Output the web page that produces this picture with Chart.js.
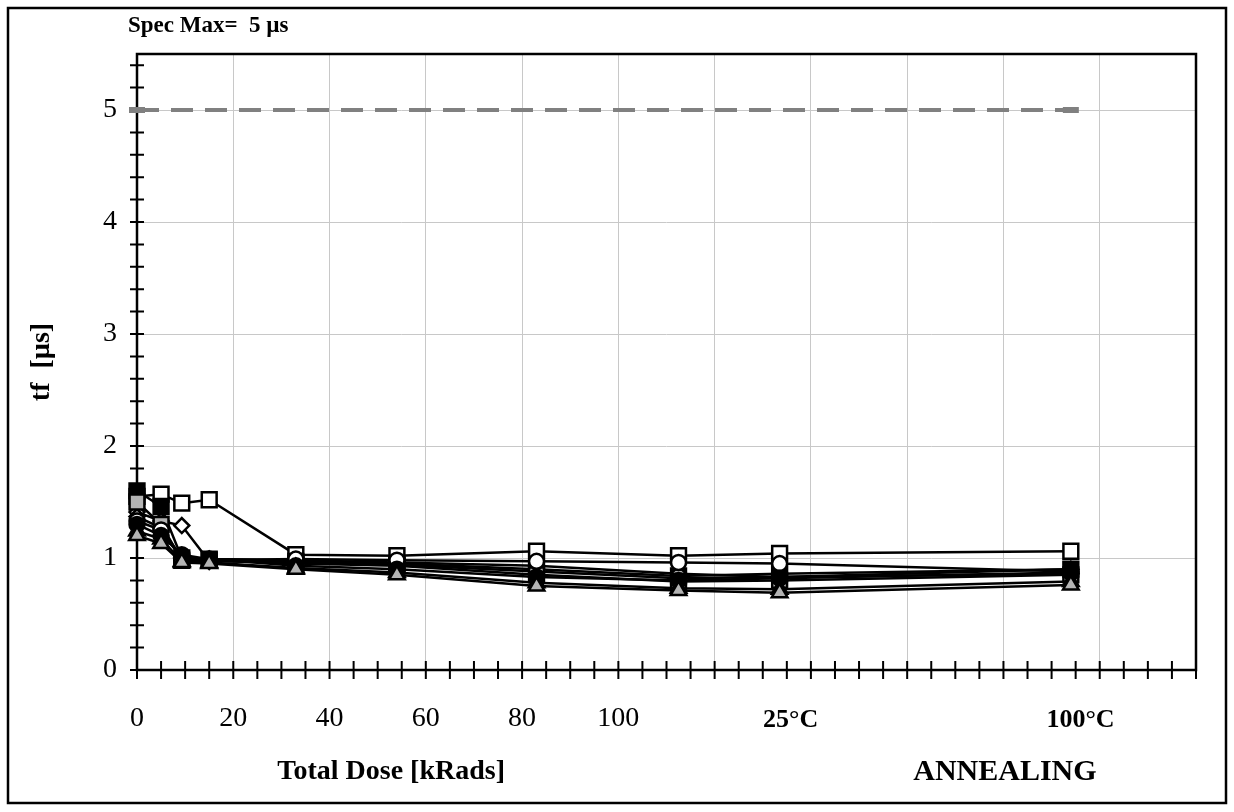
<!DOCTYPE html>
<html>
<head>
<meta charset="utf-8">
<script src="https://cdn.jsdelivr.net/npm/chart.js@4.4.0/dist/chart.umd.min.js"></script>
<style>
html, body { margin: 0; padding: 0; background: #fff; }
</style>
</head>
<body>
<canvas id="grafico" width="1234" height="812"></canvas>
<script>
// doses (kRads) e pontos de recozimento
var doses = [0, 5, 9.3, 15, 33, 54, 83, 112.5, 133.5, 194];
var rotulosX = [0, 20, 40, 60, 80, 100];
var rotulosRecozimento = ["25°C", "100°C"];
var posRecozimento = [135.8, 196];

var specMax = 5;
var specDoses = [0, 194];

// tf [µs] por amostra
var quadBranco  = [1.55, 1.57, 1.49, 1.52, 1.03, 1.02, 1.06, 1.02, 1.04, 1.06];
var quadPreto   = [1.60, 1.46, 1.00, 0.99, 0.97, 0.95, 0.90, 0.84, 0.86, 0.90];
var quadCinza   = [1.50, 1.30, 0.98, 0.98, 0.95, 0.93, 0.85, 0.79, 0.80, 0.85];
var circPreto   = [1.30, 1.20, 1.03, 0.99, 0.93, 0.90, 0.83, 0.80, 0.82, 0.87];
var circBranco  = [1.33, 1.25, 0.99, 0.98, 0.99, 0.98, 0.97, 0.96, 0.95, 0.88];
var losBranco   = [1.41, 1.33, 1.29, 0.97, 0.96, 0.94, 0.88, 0.82, 0.83, 0.86];
var losCinza    = [1.37, 1.27, 1.00, 0.99, 0.98, 0.96, 0.93, 0.86, 0.83, 0.90];
var triPreto    = [1.24, 1.17, 0.97, 0.96, 0.91, 0.87, 0.78, 0.73, 0.72, 0.79];
var triCinza    = [1.20, 1.13, 0.96, 0.95, 0.90, 0.85, 0.75, 0.71, 0.69, 0.76];

var fonte = "Liberation Serif";

function pontos(vals) {
    return doses.map(function (d, i) { return { x: d, y: vals[i] }; });
}

function serie(vals, estilo, fundo, raio) {
    return {
        data: pontos(vals),
        borderColor: '#000',
        borderWidth: 2.5,
        pointStyle: estilo,
        pointRadius: raio,
        pointBackgroundColor: fundo,
        pointBorderColor: '#000',
        pointBorderWidth: 2.5,
        tension: 0,
        clip: false
    };
}

const extras = {
    id: 'extras',
    beforeDatasetsDraw(chart) {
        const ctx = chart.ctx, a = chart.chartArea;
        const sx = chart.scales.x, sy = chart.scales.y;
        ctx.save();
        ctx.strokeStyle = '#000';
        ctx.lineWidth = 2.5;
        ctx.strokeRect(a.left, a.top, a.right - a.left, a.bottom - a.top);
        ctx.lineWidth = 2;
        ctx.beginPath();
        for (let v = 0; v <= 220; v += 5) {
            const px = sx.getPixelForValue(v);
            ctx.moveTo(px, a.bottom - 9);
            ctx.lineTo(px, a.bottom + 9);
        }
        for (let v = 0; v <= 5.41; v += 0.2) {
            const py = sy.getPixelForValue(v);
            ctx.moveTo(a.left - 7, py);
            ctx.lineTo(a.left + 7, py);
        }
        ctx.stroke();
        ctx.restore();
    },
    afterDraw(chart) {
        const ctx = chart.ctx;
        const sx = chart.scales.x;
        ctx.save();
        // moldura externa
        ctx.strokeStyle = '#000';
        ctx.lineWidth = 2.5;
        ctx.strokeRect(8, 8, 1218, 795);

        ctx.fillStyle = '#000';
        ctx.textBaseline = 'alphabetic';
        ctx.textAlign = 'left';
        ctx.font = 'bold 23px "' + fonte + '"';
        ctx.fillText('Spec Max=  ' + specMax + ' µs', 128, 32);

        ctx.textAlign = 'center';
        ctx.textBaseline = 'middle';
        ctx.font = 'bold 26px "' + fonte + '"';
        for (let i = 0; i < rotulosRecozimento.length; i++) {
            ctx.fillText(rotulosRecozimento[i], sx.getPixelForValue(posRecozimento[i]), 720);
        }
        ctx.font = 'bold 28px "' + fonte + '"';
        ctx.fillText('Total Dose [kRads]', sx.getPixelForValue(52.8), 772);
        ctx.font = 'bold 30px "' + fonte + '"';
        ctx.fillText('ANNEALING', sx.getPixelForValue(180.3), 772);
        ctx.restore();
    }
};

const ctx = document.getElementById('grafico');

new Chart(ctx, {
    type: 'line',
    data: {
        datasets: [
            {
                data: specDoses.map(function (d) { return { x: d, y: specMax }; }),
                borderColor: '#808080',
                borderWidth: 4,
                borderDash: [22, 12],
                pointStyle: 'line',
                pointRadius: 8,
                pointBorderColor: '#808080',
                pointBorderWidth: 6,
                clip: false
            },
            serie(triCinza, 'triangle', '#b4b4b4', 9),
            serie(triPreto, 'triangle', '#000', 9),
            serie(circPreto, 'circle', '#000', 7.5),
            serie(circBranco, 'circle', '#fff', 7.5),
            serie(quadCinza, 'rect', '#b4b4b4', 10.5),
            serie(losCinza, 'rectRot', '#b4b4b4', 7.5),
            serie(losBranco, 'rectRot', '#fff', 7.5),
            serie(quadPreto, 'rect', '#000', 10.5),
            serie(quadBranco, 'rect', '#fff', 10.5)
        ]
    },
    options: {
        responsive: false,
        animation: false,
        layout: { padding: { left: 0, top: 54, right: 38, bottom: 0 } },
        plugins: { legend: { display: false }, tooltip: { enabled: false } },
        scales: {
            x: {
                type: 'linear',
                min: 0,
                max: 220,
                afterFit: function (s) { s.height = 142; },
                grid: { color: '#c8c8c8', lineWidth: 1, drawTicks: false },
                border: { display: false },
                ticks: {
                    stepSize: 20,
                    padding: 32,
                    color: '#000',
                    font: { family: fonte, size: 28 },
                    callback: function (v) { return rotulosX.indexOf(v) >= 0 ? v : ''; }
                }
            },
            y: {
                min: 0,
                max: 5.5,
                afterFit: function (s) { s.width = 137; },
                grid: { color: '#c8c8c8', lineWidth: 1, drawTicks: false },
                border: { display: false },
                ticks: {
                    stepSize: 1,
                    includeBounds: false,
                    padding: 20,
                    color: '#000',
                    font: { family: fonte, size: 28 }
                },
                title: {
                    display: true,
                    text: 'tf  [µs]',
                    color: '#000',
                    font: { family: fonte, size: 28, weight: 'bold' },
                    padding: { top: 25, bottom: 0 }
                }
            }
        }
    },
    plugins: [extras]
});
</script>
</body>
</html>
